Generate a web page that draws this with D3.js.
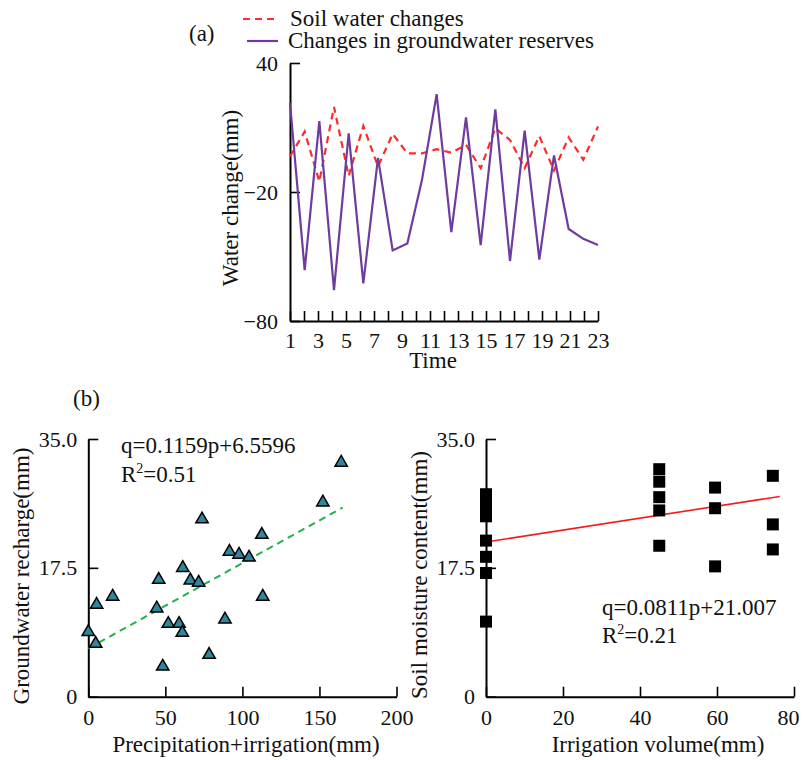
<!DOCTYPE html>
<html>
<head>
<meta charset="utf-8">
<script src="https://cdn.jsdelivr.net/npm/d3@7"></script>
<style>
  body { margin: 0; background: #fff; }
  svg text { font-family: "Times New Roman", "Liberation Serif", serif; fill: #111; }
</style>
</head>
<body>
<div id="chart"></div>
<script>
// (a) water change over time, 22 observations across the 1..23 axis
const timeTicks = [1, 2, 3, 4, 5, 6, 7, 8, 9, 10, 11, 12, 13, 14, 15, 16, 17, 18, 19, 20, 21, 22, 23];
const soilWater = [-3.5, 8.1, -15.1, 19.6, -12.5, 10.7, -8.1, 7, -2, -2, -0.1, -1.7, 1.9, -8.9, 9.6, 4.2, -8.9, 6, -10, 5.4, -5, 10.5];
const groundwater = [21.5, -56.3, 13, -65.6, 7.3, -62.5, -4.1, -47.2, -44, -14.3, 25.5, -38.7, 14.7, -44.7, 18.4, -52.1, 8.5, -51.4, -3, -37.2, -41.8, -44.7];

// (b) left: groundwater recharge vs precipitation+irrigation
const precipIrr = [0, 4.8, 5.4, 15.8, 44.4, 45.7, 48.3, 51.9, 58.9, 61, 61.3, 66.2, 71.6, 73.8, 78.4, 88.7, 91.6, 97.8, 104.3, 112.6, 113.2, 152.2, 164.1];
const recharge = [8.8, 7.2, 12.5, 13.6, 12.0, 15.9, 4.1, 9.9, 9.9, 8.7, 17.5, 15.8, 15.5, 24.1, 5.7, 10.5, 19.7, 19.3, 18.9, 22.0, 13.6, 26.4, 31.8];
const rechargeFit = { slope: 0.1159, intercept: 6.5596, from: 0, to: 165 };

// (b) right: soil moisture vs irrigation volume
const irrigation = [0, 0, 0, 0, 0, 0, 0, 0, 45, 45, 45, 45, 45, 59.5, 59.5, 59.5, 74.5, 74.5, 74.5];
const moisture = [27.5, 26.4, 25.5, 24.5, 21.2, 19.0, 16.8, 10.2, 30.9, 29.2, 27.1, 25.3, 20.5, 28.4, 25.6, 17.7, 30.0, 23.4, 20.0];
const moistureFit = { slope: 0.0811, intercept: 21.007, from: 0, to: 76.3 };

const W = 803, H = 760;
const TICK_FS = 22, TITLE_FS = 23;
const SERIF = '"Times New Roman", "Liberation Serif", serif';
const svg = d3.select('#chart').append('svg')
    .attr('width', W).attr('height', H);

function styleAxis(g) {
    g.attr('font-family', null);
    g.select('.domain').attr('stroke', '#000').attr('stroke-width', 2);
    g.selectAll('.tick line').attr('stroke', '#000').attr('stroke-width', 1.6);
    g.selectAll('.tick text').attr('font-size', TICK_FS).attr('fill', '#111')
        .style('font-family', SERIF);
}

// ---------- chart (a) ----------
const xa = d3.scaleLinear().domain([1, 23]).range([290, 598]);
const xi = d3.scaleLinear().domain([0, soilWater.length - 1]).range([290, 598]);
const ya = d3.scaleLinear().domain([-80, 40]).range([321, 63]);

svg.append('g').attr('transform', `translate(0,${ya(-80)})`)
    .call(d3.axisBottom(xa).tickValues(timeTicks).tickSizeInner(-10).tickSizeOuter(0).tickPadding(11)
        .tickFormat(d => d % 2 === 1 ? d : ''))
    .call(styleAxis);

svg.append('g').attr('transform', `translate(${xa(1)},0)`)
    .call(d3.axisLeft(ya).tickValues([40, -20, -80]).tickSizeInner(-10).tickSizeOuter(0).tickPadding(12))
    .call(styleAxis);

const lineA = d3.line().x((d, i) => xi(i)).y(d => ya(d));
svg.append('path').datum(soilWater)
    .attr('d', lineA).attr('fill', 'none')
    .attr('stroke', '#ff2a2a').attr('stroke-width', 2.2).attr('stroke-dasharray', '7,5');
svg.append('path').datum(groundwater)
    .attr('d', lineA).attr('fill', 'none')
    .attr('stroke', '#6e3c9e').attr('stroke-width', 2.2);

svg.append('text').attr('x', 433).attr('y', 368).attr('text-anchor', 'middle')
    .attr('font-size', TITLE_FS).text('Time');
svg.append('text').attr('transform', 'translate(238,198) rotate(-90)').attr('text-anchor', 'middle')
    .attr('font-size', TITLE_FS).text('Water change(mm)');

// legend
svg.append('line').attr('x1', 243).attr('x2', 276).attr('y1', 19).attr('y2', 19)
    .attr('stroke', '#ff2a2a').attr('stroke-width', 2.2).attr('stroke-dasharray', '7,5');
svg.append('text').attr('x', 290).attr('y', 26).attr('font-size', TITLE_FS).text('Soil water changes');
svg.append('line').attr('x1', 247).attr('x2', 278).attr('y1', 41).attr('y2', 41)
    .attr('stroke', '#6e3c9e').attr('stroke-width', 2.2);
svg.append('text').attr('x', 288).attr('y', 48).attr('font-size', TITLE_FS).text('Changes in groundwater reserves');
svg.append('text').attr('x', 189).attr('y', 41).attr('font-size', TITLE_FS).text('(a)');

// ---------- chart (b) left ----------
svg.append('text').attr('x', 73).attr('y', 406).attr('font-size', TITLE_FS).text('(b)');

const yb = d3.scaleLinear().domain([0, 35]).range([696.7, 439]);
const xl = d3.scaleLinear().domain([0, 200]).range([88.3, 396.5]);

svg.append('g').attr('transform', `translate(0,${yb(0)})`)
    .call(d3.axisBottom(xl).tickValues([0, 50, 100, 150, 200]).tickSizeInner(-10).tickSizeOuter(0).tickPadding(13))
    .call(styleAxis);
svg.append('g').attr('transform', `translate(${xl(0)},0)`)
    .call(d3.axisLeft(yb).tickValues([0, 17.5, 35]).tickSizeInner(-10).tickSizeOuter(0).tickPadding(11)
        .tickFormat(d => d === 0 ? '0' : d3.format('.1f')(d)))
    .call(styleAxis);

svg.append('line')
    .attr('x1', xl(rechargeFit.from)).attr('y1', yb(rechargeFit.intercept + rechargeFit.slope * rechargeFit.from))
    .attr('x2', xl(rechargeFit.to)).attr('y2', yb(rechargeFit.intercept + rechargeFit.slope * rechargeFit.to))
    .attr('stroke', '#22b04b').attr('stroke-width', 2).attr('stroke-dasharray', '7,5');

const tri = d3.symbol().type(d3.symbolTriangle).size(66);
svg.append('g').selectAll('path').data(precipIrr).enter().append('path')
    .attr('d', tri)
    .attr('transform', (d, i) => `translate(${xl(d)},${yb(recharge[i])})`)
    .attr('fill', '#31859c').attr('stroke', '#000').attr('stroke-width', 1.5);

const eqL = svg.append('g').attr('font-size', TITLE_FS);
eqL.append('text').attr('x', 121).attr('y', 453).text('q=0.1159p+6.5596');
const r2L = eqL.append('text').attr('x', 121).attr('y', 482);
r2L.append('tspan').text('R');
r2L.append('tspan').attr('font-size', 14).attr('dy', -9).text('2');
r2L.append('tspan').attr('dy', 9).text('=0.51');

svg.append('text').attr('x', 246).attr('y', 752).attr('text-anchor', 'middle')
    .attr('font-size', TITLE_FS).text('Precipitation+irrigation(mm)');
svg.append('text').attr('transform', 'translate(29,576) rotate(-90)').attr('text-anchor', 'middle')
    .attr('font-size', TITLE_FS).text('Groundwater recharge(mm)');

// ---------- chart (b) right ----------
const xr = d3.scaleLinear().domain([0, 80]).range([486, 794]);

svg.append('g').attr('transform', `translate(0,${yb(0)})`)
    .call(d3.axisBottom(xr).tickValues([0, 20, 40, 60, 80]).tickSizeInner(-10).tickSizeOuter(0).tickPadding(13))
    .call(styleAxis)
    .call(g => g.selectAll('.tick text').filter(d => d === 80).attr('dx', -6));
svg.append('g').attr('transform', `translate(${xr(0)},0)`)
    .call(d3.axisLeft(yb).tickValues([0, 17.5, 35]).tickSizeInner(-10).tickSizeOuter(0).tickPadding(11)
        .tickFormat(d => d === 0 ? '0' : d3.format('.1f')(d)))
    .call(styleAxis);

svg.append('line')
    .attr('x1', xr(moistureFit.from)).attr('y1', yb(moistureFit.intercept + moistureFit.slope * moistureFit.from))
    .attr('x2', xr(moistureFit.to)).attr('y2', yb(moistureFit.intercept + moistureFit.slope * moistureFit.to))
    .attr('stroke', '#f01c1c').attr('stroke-width', 1.6);

const sq = d3.symbol().type(d3.symbolSquare).size(144);
svg.append('g').selectAll('path').data(irrigation).enter().append('path')
    .attr('d', sq)
    .attr('transform', (d, i) => `translate(${xr(d)},${yb(moisture[i])})`)
    .attr('fill', '#000');

const eqR = svg.append('g').attr('font-size', TITLE_FS);
eqR.append('text').attr('x', 602).attr('y', 615).text('q=0.0811p+21.007');
const r2R = eqR.append('text').attr('x', 602).attr('y', 643);
r2R.append('tspan').text('R');
r2R.append('tspan').attr('font-size', 14).attr('dy', -9).text('2');
r2R.append('tspan').attr('dy', 9).text('=0.21');

svg.append('text').attr('x', 658).attr('y', 752).attr('text-anchor', 'middle')
    .attr('font-size', TITLE_FS).text('Irrigation volume(mm)');
svg.append('text').attr('transform', 'translate(427,575) rotate(-90)').attr('text-anchor', 'middle')
    .attr('font-size', TITLE_FS).text('Soil moisture content(mm)');
</script>
</body>
</html>
